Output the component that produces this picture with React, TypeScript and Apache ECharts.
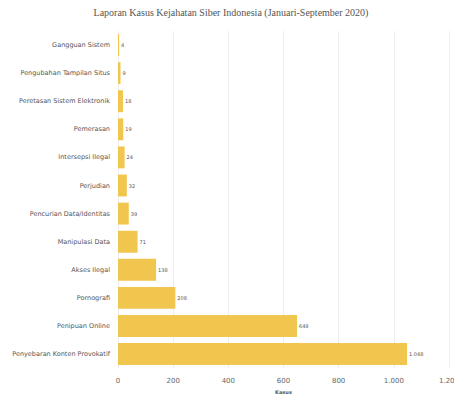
import React, { useEffect, useRef } from "react";
import * as echarts from "echarts";

const categories = [
  "Gangguan Sistem",
  "Pengubahan Tampilan Situs",
  "Peretasan Sistem Elektronik",
  "Pemerasan",
  "Intersepsi Ilegal",
  "Perjudian",
  "Pencurian Data/Identitas",
  "Manipulasi Data",
  "Akses Ilegal",
  "Pornografi",
  "Penipuan Online",
  "Penyebaran Konten Provokatif",
];
const values = [4, 9, 18, 19, 24, 32, 39, 71, 138, 208, 649, 1048];

const fmt = (v: number) => String(v).replace(/\B(?=(\d{3})+(?!\d))/g, ".");

export default function App() {
  const ref = useRef<HTMLDivElement>(null);
  useEffect(() => {
    const chart = echarts.init(ref.current!, null, { renderer: "svg" });
    chart.setOption({
      animation: false,
      title: {
        text: "Laporan Kasus Kejahatan Siber Indonesia (Januari-September 2020)",
        left: "center",
        top: 2,
        textStyle: {
          fontFamily: "Liberation Serif",
          fontSize: 10,
          fontWeight: "normal",
          color: "#555",
        },
      },
      grid: { left: 118, right: 6, top: 31, bottom: 30, containLabel: false },
      xAxis: {
        type: "value",
        min: 0,
        max: 1200,
        interval: 200,
        name: "Kasus",
        nameLocation: "middle",
        nameGap: 18,
        nameTextStyle: { fontSize: 5, fontWeight: "bold", color: "#555", fontFamily: "DejaVu Sans" },
        axisLine: { show: false },
        axisTick: { show: false },
        axisLabel: {
          fontSize: 7,
          color: "#666",
          fontFamily: "DejaVu Sans",
          margin: 9,
          formatter: (v: number) => fmt(v),
        },
        splitLine: { show: true, lineStyle: { color: "#eeeeee", width: 1 } },
      },
      yAxis: {
        type: "category",
        data: categories,
        inverse: true,
        axisLine: { show: false },
        axisTick: { show: false },
        axisLabel: { fontSize: 6.5, color: "#555", fontFamily: "DejaVu Sans", margin: 8 },
      },
      series: [
        {
          type: "bar",
          data: values,
          barCategoryGap: "22%",
          itemStyle: { color: "#F1C64E" },
          label: {
            show: true,
            position: "right",
            distance: 2,
            fontSize: 5,
            color: "#555",
            fontFamily: "DejaVu Sans",
            formatter: (p: any) => fmt(p.value),
          },
        },
      ],
    });
    return () => chart.dispose();
  }, []);
  return <div ref={ref} style={{ width: 462, height: 399, marginLeft: -8, marginTop: -8 }} />;
}
